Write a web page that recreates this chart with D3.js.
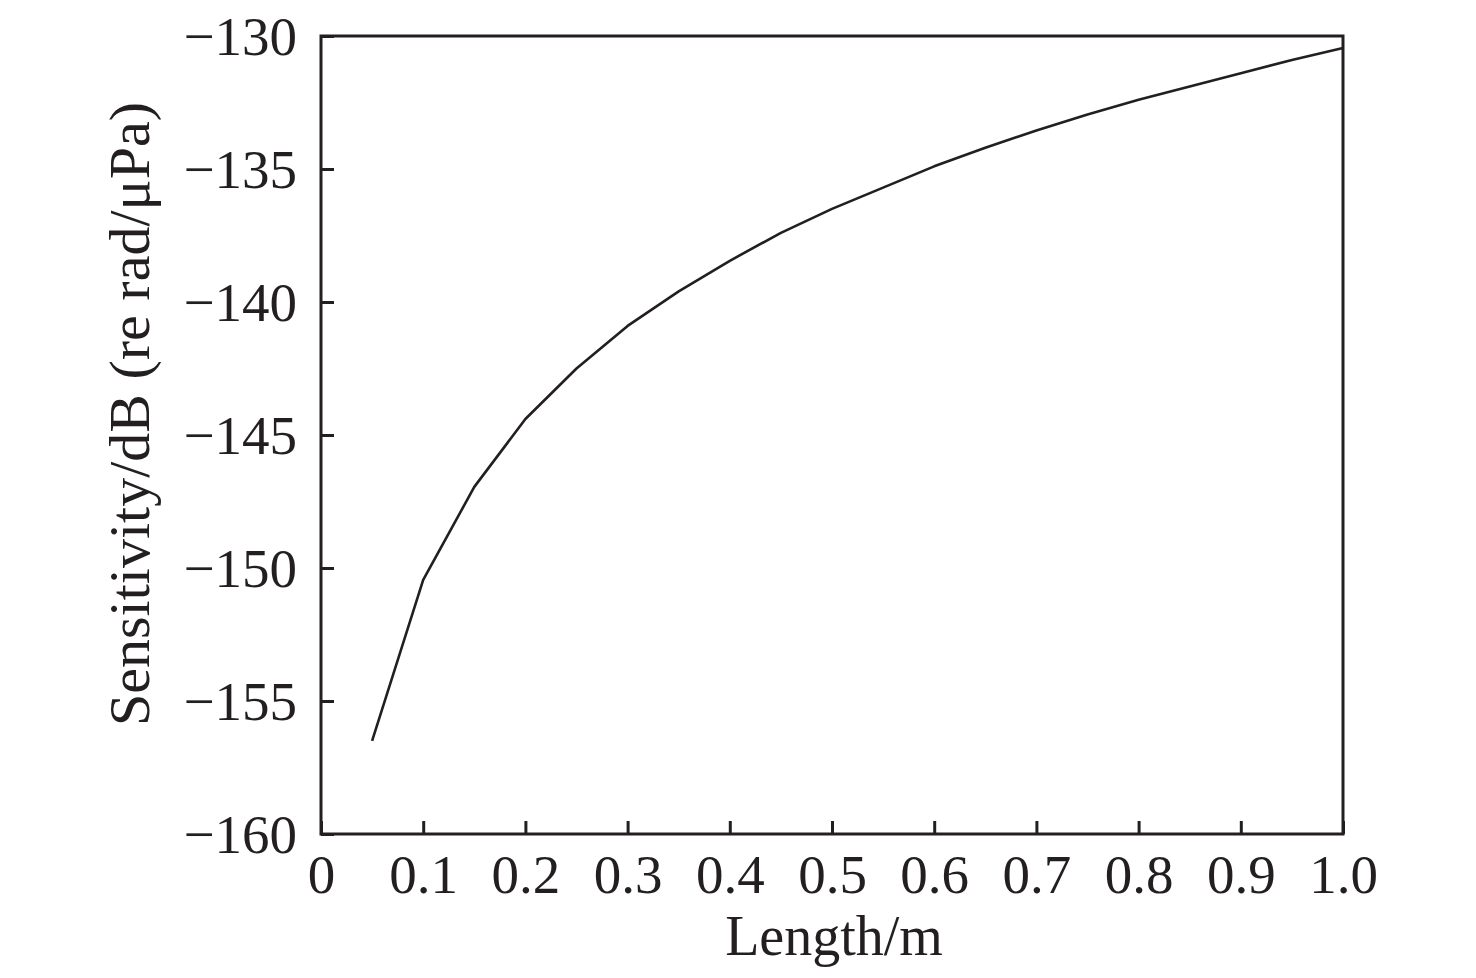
<!DOCTYPE html>
<html>
<head>
<meta charset="utf-8">
<script src="https://cdn.jsdelivr.net/npm/d3@7"></script>
<style>
  html, body { margin: 0; padding: 0; background: #fff; }
  svg { display: block; }
  text { font-family: "Liberation Serif", "Times New Roman", serif; fill: #231f20; }
</style>
</head>
<body>
<svg id="chart" width="1476" height="978"></svg>
<script>
// Data
const lengths = [0.05, 0.10, 0.15, 0.20, 0.25, 0.30, 0.35, 0.40, 0.45, 0.50,
                 0.55, 0.60, 0.65, 0.70, 0.75, 0.80, 0.85, 0.90, 0.95, 1.00];
const sensitivity = [-156.5, -150.45, -146.95, -144.4, -142.5, -140.9, -139.6, -138.45, -137.4, -136.5,
                     -135.7, -134.9, -134.2, -133.55, -132.95, -132.4, -131.9, -131.4, -130.9, -130.45];
const xTicks = [0, 0.1, 0.2, 0.3, 0.4, 0.5, 0.6, 0.7, 0.8, 0.9, 1.0];
const xTickLabels = ["0", "0.1", "0.2", "0.3", "0.4", "0.5", "0.6", "0.7", "0.8", "0.9", "1.0"];
const yTicks = [-160, -155, -150, -145, -140, -135, -130];
const yTickLabels = ["\u2212160", "\u2212155", "\u2212150", "\u2212145", "\u2212140", "\u2212135", "\u2212130"];
const xTitle = "Length/m";
const yTitle = "Sensitivity/dB (re rad/\u03bcPa)";

const svg = d3.select("#chart");
const mLeft = 321, mRight = 1343, mTop = 36, mBottom = 834;
const ink = "#231f20";

const x = d3.scaleLinear().domain([0, 1]).range([mLeft, mRight]);
const y = d3.scaleLinear().domain([-160, -130]).range([mBottom, mTop]);

// Curve
const line = d3.line().x(d => x(d[0])).y(d => y(d[1]));
svg.append("path")
  .datum(lengths.map((l, i) => [l, sensitivity[i]]))
  .attr("d", line)
  .attr("fill", "none")
  .attr("stroke", ink)
  .attr("stroke-width", 2.6)
  .attr("stroke-linejoin", "round");

// Bottom axis (inward ticks)
const xAxis = d3.axisBottom(x)
  .tickValues(xTicks)
  .tickFormat((d, i) => xTickLabels[i])
  .tickSizeInner(-13).tickSizeOuter(0).tickPadding(36);
const gx = svg.append("g").attr("transform", `translate(0,${mBottom})`).call(xAxis);

// Left axis (inward ticks)
const yAxis = d3.axisLeft(y)
  .tickValues(yTicks)
  .tickFormat((d, i) => yTickLabels[i])
  .tickSizeInner(-13).tickSizeOuter(0).tickPadding(36);
const gy = svg.append("g").attr("transform", `translate(${mLeft},0)`).call(yAxis);

[gx, gy].forEach(g => {
  g.select(".domain").remove();
  g.selectAll(".tick line").attr("stroke", ink).attr("stroke-width", 3);
  g.selectAll(".tick text").attr("font-family", "'Liberation Serif', 'Times New Roman', serif")
    .attr("font-size", 55).attr("fill", ink);
});
gx.selectAll(".tick text").attr("dy", "0.71em").attr("y", 20);
gy.selectAll(".tick text").attr("x", -24).attr("dy", "0.33em");

// Frame
svg.append("rect")
  .attr("x", mLeft).attr("y", mTop)
  .attr("width", mRight - mLeft).attr("height", mBottom - mTop)
  .attr("fill", "none").attr("stroke", ink).attr("stroke-width", 3);

// Titles
svg.append("text")
  .attr("x", (mLeft + mRight) / 2 + 2).attr("y", 955)
  .attr("text-anchor", "middle")
  .attr("font-size", 56)
  .text(xTitle);

svg.append("text")
  .attr("transform", `translate(149,414) rotate(-90)`)
  .attr("text-anchor", "middle")
  .attr("font-size", 58)
  .text(yTitle);
</script>
</body>
</html>
